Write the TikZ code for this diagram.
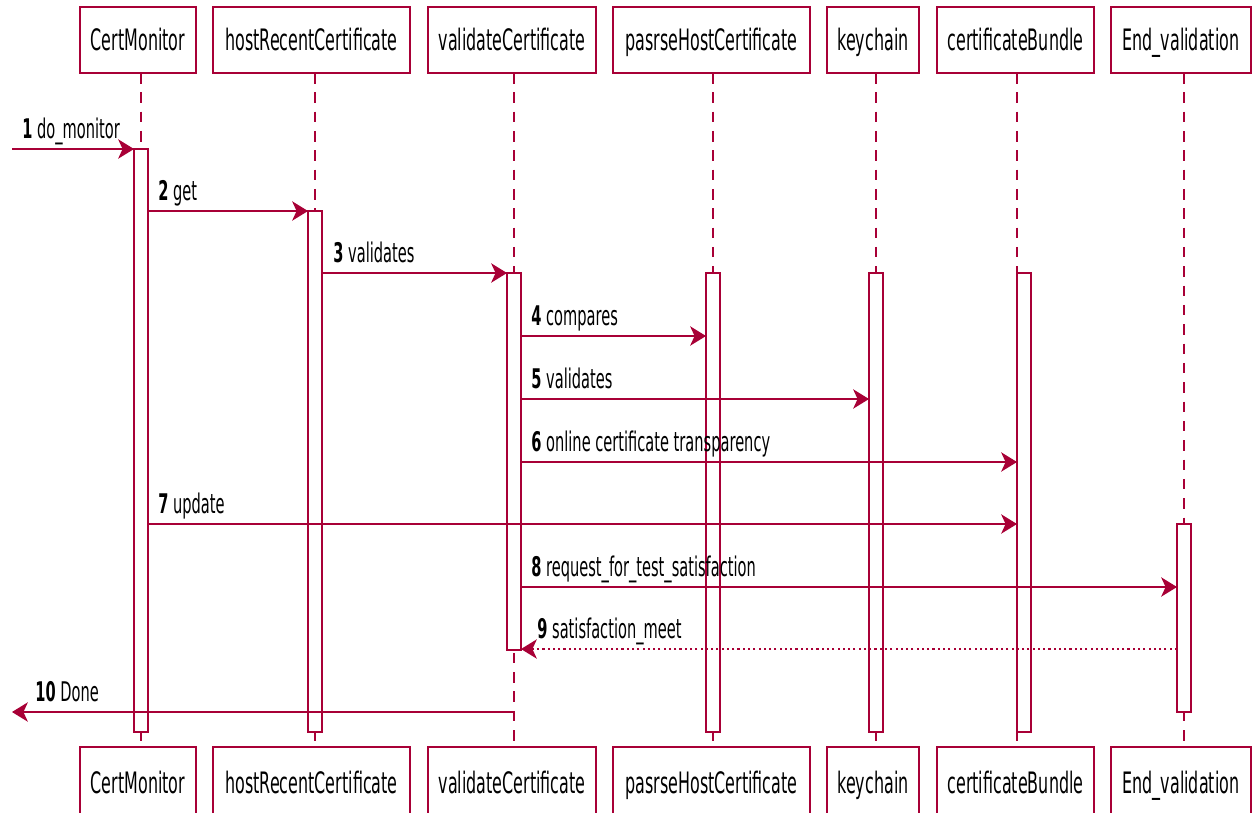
\documentclass[tikz,border=0pt]{standalone}
\usepackage{fontspec}
\setmainfont{DejaVu Sans}[FakeStretch=0.54]
\usetikzlibrary{arrows.meta}
\definecolor{umlred}{HTML}{A80036}
\begin{document}
\begin{tikzpicture}[x=0.02cm,y=-0.02cm,
  participant/.style={draw=umlred, line width=1.4pt, fill=white, inner sep=0pt, outer sep=0pt,
    minimum height=1.32cm, text height=13pt, text depth=1pt,
    font=\fontsize{16.8}{19}\selectfont, text=black},
  participantlow/.style={participant, minimum height=1.46cm, text height=13pt, text depth=2pt},
  lifeline/.style={draw=umlred, line width=0.6pt, dash pattern=on 6pt off 5pt},
  actbar/.style={draw=umlred, line width=1pt, fill=white, inner sep=0pt, outer sep=0pt, minimum width=0.28cm},
  msg/.style={draw=umlred, line width=1.1pt, -{Stealth[length=9pt,width=11pt,inset=2.5pt]}},
  reply/.style={msg, dash pattern=on 1.2pt off 1.8pt},
  msglabel/.style={anchor=base west, inner sep=0pt, font=\fontsize{15.4}{18}\selectfont, text=black}
]
\useasboundingbox (0,0) rectangle (1254,812);
\begin{scope}
\clip (0,0) rectangle (1254,812);

% participants, top row
\node[participant, minimum width=2.32cm] (tCM) at (138,40) {CertMonitor};
\node[participant, minimum width=3.94cm] (tHR) at (311.5,40) {hostRecentCertificate};
\node[participant, minimum width=3.36cm] (tVC) at (512,40) {validateCertificate};
\node[participant, minimum width=3.94cm] (tPH) at (711.5,40) {pasrseHostCertificate};
\node[participant, minimum width=1.84cm] (tKC) at (873,40) {keychain};
\node[participant, minimum width=3.14cm] (tCB) at (1015.5,40) {certificateBundle};
\node[participant, minimum width=2.80cm] (tEV) at (1181,40) {End\_validation};

% participants, bottom row (running off the lower edge)
\node[participantlow, minimum width=2.32cm] (bCM) at (138,783.5) {CertMonitor};
\node[participantlow, minimum width=3.94cm] (bHR) at (311.5,783.5) {hostRecentCertificate};
\node[participantlow, minimum width=3.36cm] (bVC) at (512,783.5) {validateCertificate};
\node[participantlow, minimum width=3.94cm] (bPH) at (711.5,783.5) {pasrseHostCertificate};
\node[participantlow, minimum width=1.84cm] (bKC) at (873,783.5) {keychain};
\node[participantlow, minimum width=3.14cm] (bCB) at (1015.5,783.5) {certificateBundle};
\node[participantlow, minimum width=2.80cm] (bEV) at (1181,783.5) {End\_validation};

% lifelines
\draw[lifeline] (141,73) coordinate (lCM) -- (lCM |- bCM.north);
\draw[lifeline] (315,73) coordinate (lHR) -- (lHR |- bHR.north);
\draw[lifeline] (514,73) coordinate (lVC) -- (lVC |- bVC.north);
\draw[lifeline] (713,73) coordinate (lPH) -- (lPH |- bPH.north);
\draw[lifeline] (876,73) coordinate (lKC) -- (lKC |- bKC.north);
\draw[lifeline] (1017,73) coordinate (lCB) -- (lCB |- bCB.north);
\draw[lifeline] (1184,73) coordinate (lEV) -- (lEV |- bEV.north);

% activation bars
\node[actbar, minimum height=11.66cm] (barCM) at (141,440.5) {};
\node[actbar, minimum height=10.42cm] (barHR) at (315,471.5) {};
\node[actbar, minimum height=7.54cm]  (barVC) at (514,461.5) {};
\node[actbar, minimum height=9.18cm]  (barPH) at (713,502.5) {};
\node[actbar, minimum height=9.18cm]  (barKC) at (876,502.5) {};
\node[actbar, minimum height=9.18cm]  (barCB) at (1024,502.5) {};
\node[actbar, minimum height=3.76cm]  (barEV) at (1184,618) {};
\end{scope}

% messages
\coordinate (entry) at (12,149);
\coordinate (exit) at (12,712);

\draw[msg] (entry) -- (barCM.west |- entry);
\node[msglabel] (m1) at (22,138) {\textbf{1} do\_monitor};

\draw[msg] (barCM.east |- 0,211) -- (barHR.west |- 0,211);
\node[msglabel] (m2) at (158,200) {\textbf{2} get};

\draw[msg] (barHR.east |- 0,273) -- (barVC.west |- 0,273);
\node[msglabel] (m3) at (333,262) {\textbf{3} validates};

\draw[msg] (barVC.east |- 0,336) -- (barPH.west |- 0,336);
\node[msglabel] (m4) at (531,325) {\textbf{4} compares};

\draw[msg] (barVC.east |- 0,399) -- (barKC.west |- 0,399);
\node[msglabel] (m5) at (531,388) {\textbf{5} validates};

\draw[msg] (barVC.east |- 0,462) -- (barCB.west |- 0,462);
\node[msglabel] (m6) at (531,451) {\textbf{6} online certificate transparency};

\draw[msg] (barCM.east |- 0,524) -- (barCB.west |- 0,524);
\node[msglabel] (m7) at (158,513) {\textbf{7} update};

\draw[msg] (barVC.east |- 0,587) -- (barEV.west |- 0,587);
\node[msglabel] (m8) at (531,576) {\textbf{8} request\_for\_test\_satisfaction};

\draw[reply] (barEV.west |- 0,649) -- (barVC.east |- 0,649);
\node[msglabel] (m9) at (537,638) {\textbf{9} satisfaction\_meet};

\draw[msg] (lVC |- exit) -- (exit);
\node[msglabel] (m10) at (35,701) {\textbf{10} Done};

\end{tikzpicture}
\end{document}
